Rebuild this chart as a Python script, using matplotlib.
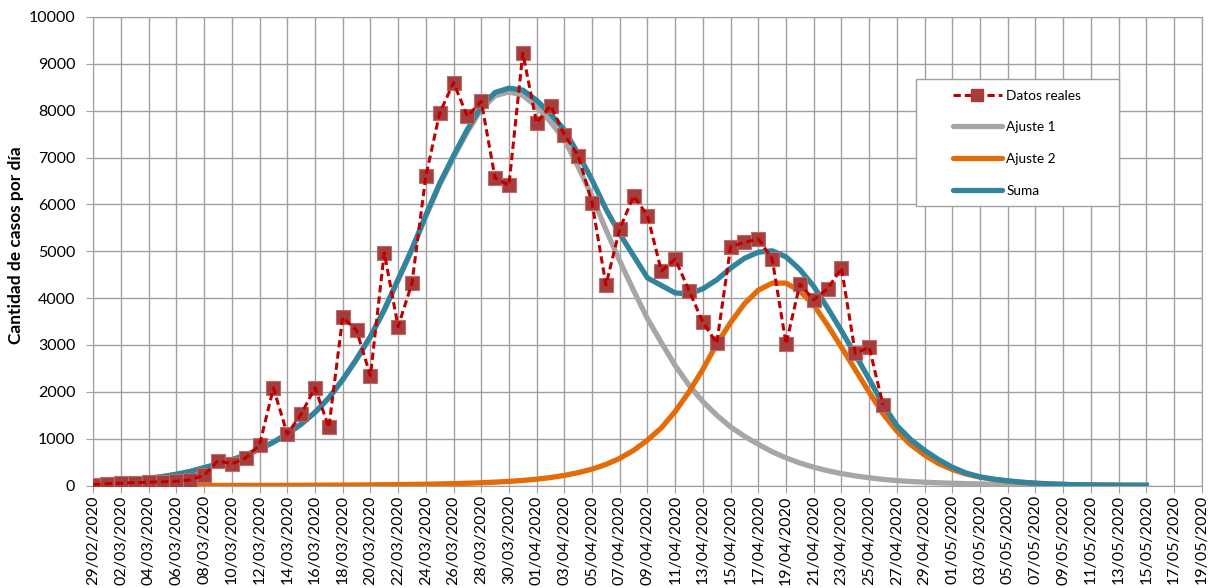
import matplotlib
matplotlib.use("Agg")
import matplotlib.pyplot as plt
import matplotlib.dates as mdates
from matplotlib.lines import Line2D
from matplotlib.patches import Rectangle
import numpy as np

plt.rcParams['font.family'] = ['Lato', 'DejaVu Sans']

# first day of every series
FECHA_INICIO = np.datetime64('2020-02-29')

# casos diarios (29/02 .. 26/04)
datos_reales = [20, 40, 50, 60, 70, 80, 90, 120, 220, 530,
                460, 590, 870, 2080, 1100, 1520, 2090, 1240, 3590, 3310,
                2340, 4970, 3390, 4320, 6600, 7950, 8600, 7880, 8200, 6560,
                6410, 9230, 7740, 8110, 7490, 7040, 6030, 4280, 5480, 6180,
                5760, 4580, 4830, 4160, 3480, 3040, 5100, 5190, 5260, 4840,
                3020, 4300, 3960, 4200, 4640, 2820, 2950, 1720]

# curvas ajustadas (29/02 .. 15/05)
ajuste_1 = [80, 95, 110, 130, 155, 190, 240, 300, 380, 460,
            550, 650, 775, 925, 1100, 1310, 1560, 1870, 2250, 2690,
            3170, 3740, 4380, 5030, 5740, 6420, 7000, 7550, 8030, 8320,
            8400, 8330, 8090, 7760, 7380, 6800, 6170, 5460, 4790, 4160,
            3560, 3050, 2560, 2140, 1790, 1500, 1250, 1050, 880, 720,
            590, 480, 390, 315, 255, 205, 165, 130, 105, 85,
            70, 58, 48, 40, 33, 27, 22, 18, 14, 11,
            8, 6, 5, 4, 3, 2, 2]

ajuste_2 = [0, 0, 0, 0, 0, 1, 1, 1, 1, 2,
            2, 2, 3, 3, 4, 5, 6, 7, 9, 11,
            13, 16, 19, 23, 27, 33, 40, 48, 58, 72,
            88, 108, 135, 170, 215, 275, 350, 450, 580, 750,
            970, 1230, 1580, 2000, 2480, 3020, 3480, 3880, 4170, 4320,
            4320, 4150, 3850, 3420, 2950, 2470, 1990, 1530, 1160, 870,
            650, 470, 340, 245, 178, 130, 93, 66, 46, 32,
            22, 15, 11, 8, 5, 4, 3]

suma = [80, 95, 110, 130, 155, 190, 240, 300, 380, 460,
        550, 650, 775, 925, 1100, 1310, 1560, 1870, 2260, 2700,
        3180, 3750, 4400, 5050, 5770, 6450, 7040, 7600, 8090, 8390,
        8480, 8440, 8220, 7930, 7590, 7080, 6520, 5900, 5370, 4900,
        4430, 4270, 4110, 4090, 4200, 4390, 4640, 4850, 4980, 5010,
        4880, 4610, 4250, 3790, 3300, 2790, 2270, 1730, 1280, 980,
        750, 555, 390, 265, 185, 135, 100, 72, 50, 35,
        24, 17, 12, 9, 7, 5, 4]

W, H = 1210, 588
GRID = '#A0A0A0'
ROJO = '#C00000'
MARCA = '#A53D3D'
GRIS = '#A6A6A6'
NARANJA = '#E36C09'
AZUL = '#31849B'
LW = 3.8

dias_datos = FECHA_INICIO + np.arange(len(datos_reales))
dias_ajuste = FECHA_INICIO + np.arange(len(suma))
ticks = FECHA_INICIO + np.arange(0, 81, 2)

fig = plt.figure(figsize=(W/100, H/100), dpi=100)
ax = fig.add_axes([93.3/W, 1-485.5/H, (1201.7-93.3)/W, (485.5-17)/H])

ax.plot(dias_ajuste, ajuste_1, color=GRIS, lw=LW, zorder=3, solid_joinstyle='round')
ax.plot(dias_ajuste, ajuste_2, color=NARANJA, lw=LW, zorder=4, solid_joinstyle='round')
ax.plot(dias_ajuste, suma, color=AZUL, lw=LW, zorder=5, solid_joinstyle='round')
ax.plot(dias_datos, datos_reales, ls='none', marker='s', ms=9.5,
        mfc=MARCA, mec='#BC6A6A', mew=0.8, zorder=6)
ax.plot(dias_datos, datos_reales, color=ROJO, lw=2.2, ls=(0, (2.4, 1.3)), zorder=7)

ax.set_xlim(ticks[0], ticks[-1])
ax.set_ylim(0, 10000)
ax.set_yticks(range(0, 10001, 1000))
ax.set_xticks(ticks)
ax.xaxis.set_major_formatter(mdates.DateFormatter('%d/%m/%Y'))
ax.grid(True, color=GRID, lw=1.0)
ax.set_axisbelow(True)
for s in ax.spines.values():
    s.set_color(GRID)
ax.tick_params(axis='both', length=5, color=GRID, labelsize=11.5)
ax.tick_params(axis='y', pad=8)
ax.tick_params(axis='x', pad=2, labelrotation=90)

fig.text(16/W, 1-245/H, 'Cantidad de casos por día', rotation=90,
         ha='center', va='center', fontsize=12.5, fontweight='bold')

# legend box
fig.add_artist(Rectangle((915.7/W, 1-205.7/H), (1119-915.7)/W, (205.7-79.3)/H,
                         transform=fig.transFigure, facecolor='white',
                         edgecolor=GRID, lw=1.0, zorder=4))
handles = [Line2D([], [], color=ROJO, lw=2.2, ls=(0, (2.4, 1.3)), marker='s',
                  ms=9, mfc=MARCA, mec=MARCA),
           Line2D([], [], color=GRIS, lw=LW, solid_capstyle='round'),
           Line2D([], [], color=NARANJA, lw=LW, solid_capstyle='round'),
           Line2D([], [], color=AZUL, lw=LW, solid_capstyle='round')]
labels = ['Datos reales', 'Ajuste 1', 'Ajuste 2', 'Suma']
leg = fig.legend(handles, labels, loc='upper left',
                 bbox_to_anchor=(952.7/W, 1-89.5/H), bbox_transform=fig.transFigure,
                 frameon=False, fontsize=9.8, handlelength=3.6, handletextpad=0.35,
                 labelspacing=1.45, borderpad=0, borderaxespad=0, numpoints=1)
leg.set_zorder(5)

fig.savefig('out.png', dpi=100)
